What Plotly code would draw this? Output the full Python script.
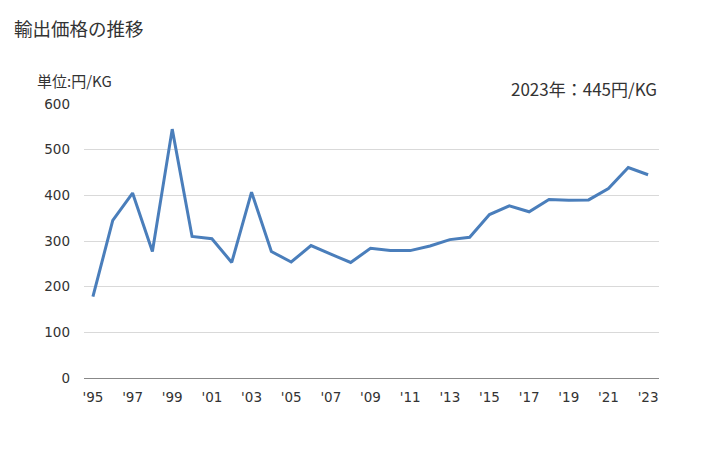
import plotly.graph_objects as go

years = list(range(1995, 2024))
values = [178, 345, 405, 277, 545, 310, 305, 253, 407, 277, 254, 290, 271, 253, 284,
          279, 279, 289, 303, 308, 358, 377, 364, 391, 389, 390, 415, 461, 445]
tick_years = list(range(1995, 2024, 2))
tick_labels = ["'" + str(y)[2:] for y in tick_years]
y_ticks = [0, 100, 200, 300, 400, 500, 600]

font = "Noto Sans CJK JP, Noto Sans, sans-serif"
tickfont = dict(family="DejaVu Sans, sans-serif", size=13.5, color="#333333")

fig = go.Figure()
fig.add_trace(go.Scatter(x=years, y=values, mode="lines",
                         line=dict(color="#4a7ebb", width=3), hoverinfo="x+y"))

L, R, T, B = 84, 69, 104, 72
pw = 728 - L - R
ph = 450 - T - B


def px(x):
    return (x - L) / pw


def py(y):
    return 1 - (y - T) / ph


fig.update_layout(
    width=728, height=450,
    margin=dict(l=L, r=R, t=T, b=B),
    paper_bgcolor="white", plot_bgcolor="white",
    showlegend=False,
    font=dict(family=font, color="#333333", size=13),
    xaxis=dict(range=[1994.55, 2023.55], tickmode="array", tickvals=tick_years,
               ticktext=tick_labels, showgrid=False, zeroline=False,
               showline=False, ticks="", tickfont=tickfont, ticklabelstandoff=9),
    yaxis=dict(range=[0, 600], tickmode="array", tickvals=y_ticks,
               showgrid=True, gridcolor="#d9d9d9", gridwidth=1,
               zeroline=True, zerolinecolor="#888888", zerolinewidth=1,
               ticks="", tickfont=tickfont, ticklabelstandoff=13),
    annotations=[
        dict(text="輸出価格の推移", x=px(12), y=py(28), xref="paper", yref="paper",
             xanchor="left", yanchor="middle",
             showarrow=False, font=dict(size=18.5, color="#333333")),
        dict(text="単位:円/KG", x=px(35), y=py(80), xref="paper", yref="paper",
             xanchor="left", yanchor="middle",
             showarrow=False, font=dict(size=15, color="#333333")),
        dict(text="2023年：445円/KG", x=px(659), y=py(88), xref="paper", yref="paper",
             xanchor="right", yanchor="middle",
             showarrow=False, font=dict(size=17, color="#333333")),
    ],
)

fig.write_html("out.html")
